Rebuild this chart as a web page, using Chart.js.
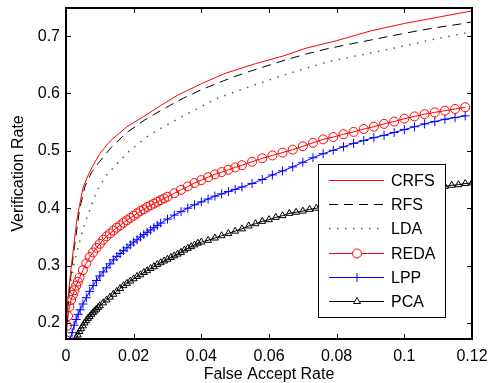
<!DOCTYPE html>
<html>
<head>
<meta charset="utf-8">
<script src="https://cdn.jsdelivr.net/npm/chart.js@4/dist/chart.umd.min.js"></script>
<style>
  html, body { margin: 0; padding: 0; background: #fff; }
  #wrap { width: 490px; height: 383px; }
</style>
</head>
<body>
<div id="wrap"><canvas id="rocChart" width="490" height="383"></canvas></div>
<script>
// axis ticks
const xTickValues = [0, 0.02, 0.04, 0.06, 0.08, 0.1, 0.12];
const xTickLabels = ['0', '0.02', '0.04', '0.06', '0.08', '0.1', '0.12'];
const yTickValues = [0.2, 0.3, 0.4, 0.5, 0.6, 0.7];
const yTickLabels = ['0.2', '0.3', '0.4', '0.5', '0.6', '0.7'];

// CRFS
const crfsX = [0, 0.0005, 0.001, 0.0017, 0.0025, 0.0032, 0.004, 0.005, 0.0065, 0.008, 0.01, 0.012, 0.014, 0.018, 0.023, 0.028, 0.033, 0.04, 0.047, 0.056, 0.064, 0.071, 0.08, 0.09, 0.1, 0.11, 0.12];
const crfsY = [0.17, 0.235, 0.268, 0.305, 0.345, 0.379, 0.405, 0.435, 0.457, 0.475, 0.495, 0.51, 0.522, 0.542, 0.56, 0.579, 0.597, 0.617, 0.635, 0.652, 0.665, 0.679, 0.692, 0.709, 0.722, 0.733, 0.744];

// RFS
const rfsX = [0, 0.0005, 0.001, 0.0017, 0.0025, 0.0032, 0.004, 0.0056, 0.0075, 0.0096, 0.0135, 0.018, 0.0233, 0.0288, 0.0347, 0.0406, 0.0465, 0.0524, 0.0588, 0.0652, 0.0711, 0.078, 0.0839, 0.0908, 0.0967, 0.1037, 0.1096, 0.1165, 0.12];
const rfsY = [0.17, 0.225, 0.258, 0.296, 0.333, 0.363, 0.398, 0.438, 0.462, 0.479, 0.507, 0.532, 0.554, 0.573, 0.592, 0.608, 0.622, 0.635, 0.647, 0.659, 0.669, 0.679, 0.686, 0.694, 0.701, 0.709, 0.715, 0.721, 0.725];

// LDA
const ldaX = [0, 0.0002, 0.0012, 0.0022, 0.0036, 0.0056, 0.0081, 0.0096, 0.012, 0.0155, 0.0189, 0.0243, 0.0288, 0.0347, 0.04, 0.044, 0.0529, 0.0623, 0.0692, 0.078, 0.0879, 0.0977, 0.1076, 0.1194];
const ldaY = [0.19, 0.217, 0.263, 0.298, 0.333, 0.374, 0.414, 0.435, 0.458, 0.48, 0.501, 0.526, 0.542, 0.561, 0.577, 0.59, 0.609, 0.628, 0.641, 0.656, 0.668, 0.68, 0.693, 0.707];

// REDA
const redaX = [0, 0.0003, 0.0006, 0.001, 0.0015, 0.002, 0.0025, 0.003, 0.0035, 0.004, 0.005, 0.006, 0.007, 0.008, 0.009, 0.01, 0.011, 0.012, 0.013, 0.014, 0.015, 0.016, 0.017, 0.018, 0.019, 0.02, 0.021, 0.022, 0.023, 0.024, 0.025, 0.026, 0.027, 0.028, 0.029, 0.03, 0.032, 0.034, 0.036, 0.038, 0.04, 0.042, 0.044, 0.046, 0.048, 0.05, 0.052, 0.055, 0.058, 0.061, 0.064, 0.067, 0.07, 0.073, 0.076, 0.079, 0.082, 0.085, 0.088, 0.091, 0.094, 0.097, 0.1, 0.103, 0.106, 0.109, 0.112, 0.115, 0.118];
const redaY = [0.17, 0.195, 0.212, 0.228, 0.24, 0.249, 0.257, 0.265, 0.272, 0.279, 0.292, 0.304, 0.315, 0.323, 0.331, 0.338, 0.345, 0.351, 0.356, 0.361, 0.366, 0.37, 0.375, 0.379, 0.383, 0.387, 0.391, 0.395, 0.398, 0.402, 0.405, 0.408, 0.411, 0.414, 0.417, 0.42, 0.426, 0.432, 0.438, 0.444, 0.449, 0.454, 0.459, 0.463, 0.467, 0.471, 0.475, 0.481, 0.487, 0.492, 0.497, 0.502, 0.508, 0.514, 0.52, 0.524, 0.529, 0.533, 0.538, 0.542, 0.547, 0.551, 0.556, 0.56, 0.564, 0.567, 0.57, 0.573, 0.576];

// LPP
const lppX = [0.0012, 0.0018, 0.0024, 0.003, 0.0036, 0.0042, 0.005, 0.006, 0.007, 0.008, 0.009, 0.01, 0.011, 0.012, 0.013, 0.014, 0.015, 0.016, 0.017, 0.018, 0.019, 0.02, 0.021, 0.022, 0.023, 0.024, 0.025, 0.026, 0.027, 0.028, 0.03, 0.032, 0.034, 0.036, 0.038, 0.04, 0.042, 0.044, 0.046, 0.048, 0.05, 0.052, 0.055, 0.058, 0.061, 0.064, 0.067, 0.07, 0.073, 0.076, 0.079, 0.082, 0.085, 0.088, 0.091, 0.094, 0.097, 0.1, 0.103, 0.106, 0.109, 0.112, 0.115, 0.118];
const lppY = [0.17, 0.183, 0.196, 0.206, 0.215, 0.223, 0.233, 0.244, 0.255, 0.265, 0.274, 0.282, 0.289, 0.296, 0.303, 0.31, 0.316, 0.321, 0.326, 0.331, 0.336, 0.341, 0.345, 0.35, 0.354, 0.358, 0.362, 0.366, 0.37, 0.374, 0.381, 0.388, 0.394, 0.4, 0.406, 0.411, 0.416, 0.421, 0.425, 0.429, 0.433, 0.437, 0.443, 0.45, 0.458, 0.465, 0.472, 0.48, 0.488, 0.495, 0.501, 0.507, 0.513, 0.518, 0.523, 0.527, 0.532, 0.537, 0.542, 0.547, 0.551, 0.555, 0.558, 0.561];

// PCA
const pcaX = [0.0025, 0.003, 0.0035, 0.004, 0.0045, 0.005, 0.0055, 0.006, 0.0065, 0.007, 0.0075, 0.008, 0.0085, 0.009, 0.0095, 0.01, 0.011, 0.012, 0.013, 0.014, 0.015, 0.016, 0.017, 0.018, 0.019, 0.02, 0.021, 0.022, 0.023, 0.024, 0.025, 0.026, 0.027, 0.028, 0.029, 0.03, 0.031, 0.032, 0.033, 0.034, 0.035, 0.036, 0.037, 0.038, 0.039, 0.04, 0.042, 0.044, 0.046, 0.048, 0.05, 0.052, 0.054, 0.056, 0.058, 0.06, 0.062, 0.064, 0.066, 0.068, 0.07, 0.072, 0.074, 0.076, 0.078, 0.08, 0.082, 0.084, 0.086, 0.088, 0.09, 0.092, 0.094, 0.096, 0.098, 0.1, 0.102, 0.104, 0.106, 0.108, 0.11, 0.112, 0.114, 0.116, 0.118, 0.12];
const pcaY = [0.168, 0.174, 0.179, 0.185, 0.19, 0.195, 0.2, 0.204, 0.208, 0.211, 0.215, 0.218, 0.221, 0.224, 0.227, 0.23, 0.235, 0.24, 0.245, 0.25, 0.255, 0.26, 0.265, 0.269, 0.273, 0.277, 0.281, 0.284, 0.288, 0.291, 0.295, 0.298, 0.302, 0.305, 0.308, 0.311, 0.314, 0.317, 0.32, 0.323, 0.327, 0.33, 0.333, 0.336, 0.339, 0.341, 0.344, 0.348, 0.352, 0.356, 0.36, 0.364, 0.369, 0.373, 0.377, 0.38, 0.384, 0.387, 0.391, 0.393, 0.395, 0.398, 0.4, 0.402, 0.404, 0.406, 0.408, 0.41, 0.412, 0.414, 0.416, 0.418, 0.42, 0.422, 0.424, 0.426, 0.428, 0.43, 0.432, 0.434, 0.436, 0.438, 0.44, 0.441, 0.443, 0.444];

const FONT = '"Liberation Sans", Arial, Helvetica, sans-serif';

function toPoints(xs, ys) {
    return xs.map((x, i) => ({ x: x, y: ys[i] }));
}

// рамка и внутренние засечки как в MATLAB
const boxAxes = {
    id: 'boxAxes',
    afterDatasetsDraw(chart) {
        const { ctx, chartArea: a, scales } = chart;
        const tick = 5;
        ctx.save();
        ctx.strokeStyle = '#000';
        ctx.lineWidth = 1;
        ctx.beginPath();
        xTickValues.forEach(v => {
            const px = Math.round(scales.x.getPixelForValue(v)) + 0.5;
            ctx.moveTo(px, a.bottom); ctx.lineTo(px, a.bottom - tick);
            ctx.moveTo(px, a.top); ctx.lineTo(px, a.top + tick);
        });
        yTickValues.forEach(v => {
            const py = Math.round(scales.y.getPixelForValue(v)) + 0.5;
            ctx.moveTo(a.left, py); ctx.lineTo(a.left + tick, py);
            ctx.moveTo(a.right, py); ctx.lineTo(a.right - tick, py);
        });
        ctx.stroke();
        ctx.lineWidth = 2;
        ctx.strokeRect(a.left, a.top, a.right - a.left, a.bottom - a.top);
        ctx.restore();
    }
};

// легенда внутри области графика
const boxLegend = {
    id: 'boxLegend',
    afterDraw(chart) {
        const { ctx, chartArea: a } = chart;
        const w = 127, h = 153;
        const left = Math.round(a.right - 27 - w);
        const top = Math.round(a.bottom - 22 - h);
        ctx.save();
        ctx.fillStyle = '#fff';
        ctx.fillRect(left, top, w, h);
        ctx.strokeStyle = '#000';
        ctx.lineWidth = 1;
        ctx.strokeRect(left + 0.5, top + 0.5, w, h);

        chart.data.datasets.forEach((ds, i) => {
            const y = Math.round(top + 16 + i * 24.2) + 0.5;
            ctx.strokeStyle = ds.borderColor;
            ctx.lineWidth = ds.borderWidth;
            ctx.setLineDash(ds.borderDash || []);
            ctx.beginPath();
            ctx.moveTo(left + 11, y);
            ctx.lineTo(left + 66, y);
            ctx.stroke();
            ctx.setLineDash([]);
            if (ds.pointRadius > 0) {
                ctx.lineWidth = 1;
                ctx.fillStyle = '#fff';
                Chart.helpers.drawPoint(ctx, {
                    pointStyle: ds.pointStyle,
                    radius: ds.pointRadius,
                    borderWidth: 1
                }, left + 39, y);
            }
            ctx.fillStyle = '#000';
            ctx.font = '16px ' + FONT;
            ctx.textBaseline = 'middle';
            ctx.fillText(ds.label, left + 73, y + 1);
        });
        ctx.restore();
    }
};

function initRocChart() {
    const ctx = document.getElementById('rocChart').getContext('2d');
    const lineDs = (label, xs, ys, color, extra) => Object.assign({
        label: label,
        data: toPoints(xs, ys),
        borderColor: color,
        backgroundColor: color,
        borderWidth: 1,
        pointRadius: 0,
        tension: 0
    }, extra);

    new Chart(ctx, {
        type: 'line',
        data: {
            datasets: [
                lineDs('CRFS', crfsX, crfsY, '#ff0000', {}),
                lineDs('RFS', rfsX, rfsY, '#000000', { borderDash: [9, 6] }),
                lineDs('LDA', ldaX, ldaY, '#1a8a1a', { borderWidth: 1.5, borderDash: [1.5, 6.5] }),
                lineDs('REDA', redaX, redaY, '#ff0000', {
                    pointStyle: 'circle', pointRadius: 4.5,
                    pointBorderColor: '#ff0000', pointBackgroundColor: 'rgba(0,0,0,0)', pointBorderWidth: 1
                }),
                lineDs('LPP', lppX, lppY, '#0000ff', {
                    pointStyle: 'cross', pointRadius: 4.5,
                    pointBorderColor: '#0000ff', pointBorderWidth: 1
                }),
                lineDs('PCA', pcaX, pcaY, '#000000', {
                    pointStyle: 'triangle', pointRadius: 4,
                    pointBorderColor: '#000000', pointBackgroundColor: 'rgba(0,0,0,0)', pointBorderWidth: 1
                })
            ]
        },
        options: {
            responsive: false,
            animation: false,
            devicePixelRatio: 1,
            layout: { padding: { top: 8, right: 18, left: 0, bottom: 0 } },
            plugins: {
                legend: { display: false },
                tooltip: { enabled: false }
            },
            scales: {
                x: {
                    type: 'linear',
                    min: 0,
                    max: 0.12,
                    afterBuildTicks: scale => { scale.ticks = xTickValues.map(v => ({ value: v })); },
                    afterFit: scale => {
                        scale.height = 44;
                        scale.paddingLeft = 0;
                        scale.paddingRight = 0;
                    },
                    grid: { display: true, drawOnChartArea: false, drawTicks: false },
                    border: { display: false },
                    ticks: {
                        padding: 8,
                        color: '#000',
                        font: { family: FONT, size: 16 },
                        maxRotation: 0,
                        autoSkip: false,
                        callback: (v, i) => xTickLabels[i]
                    },
                    title: {
                        display: true,
                        text: 'False Accept Rate',
                        color: '#000',
                        font: { family: FONT, size: 16, lineHeight: 1 },
                        padding: { top: 0, bottom: 0 }
                    }
                },
                y: {
                    type: 'linear',
                    min: 0.172,
                    max: 0.749,
                    afterBuildTicks: scale => { scale.ticks = yTickValues.map(v => ({ value: v })); },
                    afterFit: scale => {
                        scale.width = 66;
                        scale.paddingTop = 0;
                        scale.paddingBottom = 0;
                    },
                    grid: { display: true, drawOnChartArea: false, drawTicks: false },
                    border: { display: false },
                    ticks: {
                        padding: 6,
                        color: '#000',
                        font: { family: FONT, size: 16 },
                        autoSkip: false,
                        callback: (v, i) => yTickLabels[i]
                    },
                    title: {
                        display: true,
                        text: 'Verification Rate',
                        color: '#000',
                        font: { family: FONT, size: 16, lineHeight: 1 },
                        padding: { top: 11, bottom: 0 }
                    }
                }
            }
        },
        plugins: [boxAxes, boxLegend]
    });
}

document.addEventListener('DOMContentLoaded', () => {
    initRocChart();
});
</script>
</body>
</html>
